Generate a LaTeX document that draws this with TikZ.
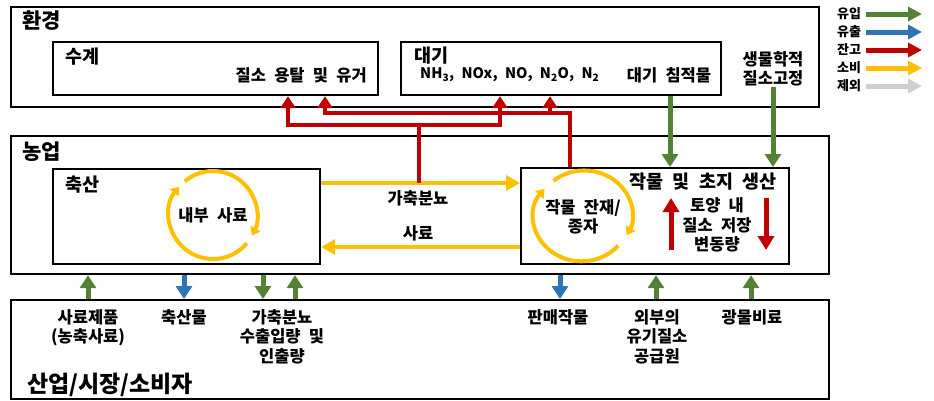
\documentclass[tikz,border=0pt]{standalone}
\usepackage{fontspec}
\setmainfont{Noto Sans CJK KR}[WordSpace=2.2]
\usetikzlibrary{arrows.meta}
\definecolor{cgreen}{RGB}{84,130,53}
\definecolor{cblue}{RGB}{46,117,182}
\definecolor{cred}{RGB}{192,0,0}
\definecolor{cyellow}{RGB}{255,192,0}
\definecolor{cgray}{RGB}{208,206,206}
\begin{document}
\begin{tikzpicture}[x=1pt,y=-1pt,
  box/.style={draw=black, line width=2.2pt, inner sep=0pt, anchor=north west},
  lbl/.style={font=\bfseries\fontsize{16.5}{19.5}\selectfont, inner sep=0pt, align=center},
  sub/.style={font=\bfseries\fontsize{18.5}{20}\selectfont, inner sep=0pt},
  ttl/.style={font=\bfseries\fontsize{21}{23}\selectfont, inner sep=0pt, anchor=west},
  leg/.style={font=\bfseries\fontsize{13}{14}\selectfont, inner sep=0pt},
  gflow/.style={draw=cgreen, line width=5pt, -{Triangle[width=16pt,length=13pt]}},
  bflow/.style={draw=cblue, line width=5pt, -{Triangle[width=16pt,length=13pt]}},
  rflow/.style={draw=cred, line width=4pt, -{Triangle[width=15pt,length=12pt]}},
  rsoil/.style={draw=cred, line width=5pt, -{Triangle[width=16pt,length=14pt]}},
  yflow/.style={draw=cyellow, line width=4pt, -{Triangle[width=15pt,length=14pt]}},
  yarc/.style={draw=cyellow, line width=4pt, -{Triangle[width=11pt,length=8pt]}},
  legarrow/.style={line width=5pt, -{Triangle[width=14pt,length=14pt]}}
]
\useasboundingbox (0,0) rectangle (934,400);

% boxes
\node[box, minimum width=808pt, minimum height=100pt] (env) at (10,6) {};
\node[box, minimum width=325pt, minimum height=53pt] (water) at (52,41) {};
\node[box, minimum width=320pt, minimum height=53pt] (air) at (400,41) {};
\node[box, minimum width=818pt, minimum height=138pt] (agr) at (10,135) {};
\node[box, minimum width=267pt, minimum height=95pt] (live) at (52,168) {};
\node[box, minimum width=268pt, minimum height=96pt] (crop) at (520,167) {};
\node[box, minimum width=818pt, minimum height=99pt] (ind) at (10,299) {};

% titles
\node[ttl] (tenv) at (22,21) {환경};
\node[sub, anchor=west] (twater) at (65,57) {수계};
\node[lbl, anchor=east] (leach) at (367,75) {질소 용탈 및 유거};
\node[sub, anchor=west] (tair) at (414,56) {대기};
\node[lbl, font=\bfseries\fontsize{14.5}{17}\selectfont, anchor=west] (gases) at (420,75) {NH\textsubscript{3}, NOx, NO, N\textsubscript{2}O, N\textsubscript{2}};
\node[lbl] (dep) at (669,75) {대기 침적물};
\node[lbl] (bnf) at (773,69) {생물학적\\질소고정};
\node[ttl] (tagr) at (22,152) {농업};
\node[sub, anchor=west] (tlive) at (65,185) {축산};
\node[lbl] (feedin) at (213,215) {내부 사료};
\node[lbl] (manure) at (418,198) {가축분뇨};
\node[lbl] (feed) at (418,233) {사료};
\node[sub] (tcrop) at (703,182) {작물 및 초지 생산};
\node[lbl] (resid) at (583,217) {작물 잔재/\\종자};
\node[lbl] (soil) at (717,225) {토양 내\\질소 저장\\변동량};
\node[font=\bfseries\fontsize{23}{25}\selectfont, inner sep=0pt, anchor=west] (tind) at (27,385) {산업/시장/소비자};

% bottom labels
\node[lbl, anchor=north] (l1) at (88,309) {사료제품\\(농축사료)};
\node[lbl, anchor=north] (l2) at (184,309) {축산물};
\node[lbl, anchor=north] (l3) at (282,309) {가축분뇨\\수출입량 및\\인출량};
\node[lbl, anchor=north] (l4) at (558,309) {판매작물};
\node[lbl, anchor=north] (l5) at (657,309) {외부의\\유기질소\\공급원};
\node[lbl, anchor=north] (l6) at (752,309) {광물비료};

% yellow flows between livestock and crop
\draw[yflow] (live.east |- 0,183) -- (crop.west |- 0,183);
\draw[yflow] (crop.west |- 0,247) -- (live.east |- 0,247);

% internal cycles
\draw[yarc] (213,215) ++(40:44) arc[start angle=40, end angle=220, radius=44];
\draw[yarc] (213,215) ++(230:44) arc[start angle=230, end angle=388, radius=44];
\draw[yarc] (583,216) ++(40:46) arc[start angle=40, end angle=220, x radius=48, y radius=44];
\draw[yarc] (583,216) ++(230:46) arc[start angle=230, end angle=388, x radius=48, y radius=44];

% red flows
\coordinate (rA) at (419,183);
\draw[rflow] (rA) |- (288,125) -- (288,0 |- water.south);
\draw[rflow] (419,125) -| (500,0 |- air.south);
\draw[rflow] (570,0 |- crop.north) |- (325,113) -- (325,0 |- water.south);
\draw[rflow] (550,115) -- (550,0 |- air.south);

% soil storage arrows
\coordinate (su1) at (671,250);
\coordinate (su2) at (671,198);
\coordinate (sd1) at (766,198);
\coordinate (sd2) at (766,250);
\draw[rsoil] (su1) -- (su2);
\draw[rsoil] (sd1) -- (sd2);

% green inputs from environment
\draw[gflow] (670,0 |- air.south) -- (670,0 |- crop.north);
\draw[gflow] (773,0 |- bnf.south) -- (773,0 |- crop.north);

% flows with industry
\draw[gflow] (88,0 |- ind.north) -- (88,0 |- agr.south);
\draw[bflow] (184,0 |- agr.south) -- (184,0 |- ind.north);
\draw[gflow] (263,0 |- agr.south) -- (263,0 |- ind.north);
\draw[gflow] (295,0 |- ind.north) -- (295,0 |- agr.south);
\draw[bflow] (560,0 |- agr.south) -- (560,0 |- ind.north);
\draw[gflow] (656,0 |- ind.north) -- (656,0 |- agr.south);
\draw[gflow] (751,0 |- ind.north) -- (751,0 |- agr.south);

% legend
\node[leg] (lg1) at (849,14) {유입};
\node[leg] (lg2) at (849,32) {유출};
\node[leg] (lg3) at (849,50) {잔고};
\node[leg] (lg4) at (849,68) {소비};
\node[leg] (lg5) at (849,86) {제외};
\draw[legarrow, draw=cgreen] (866,0 |- lg1) -- (922,0 |- lg1);
\draw[legarrow, draw=cblue] (866,0 |- lg2) -- (922,0 |- lg2);
\draw[legarrow, draw=cred] (866,0 |- lg3) -- (922,0 |- lg3);
\draw[legarrow, draw=cyellow] (866,0 |- lg4) -- (922,0 |- lg4);
\draw[legarrow, draw=cgray] (866,0 |- lg5) -- (922,0 |- lg5);
\end{tikzpicture}
\end{document}
